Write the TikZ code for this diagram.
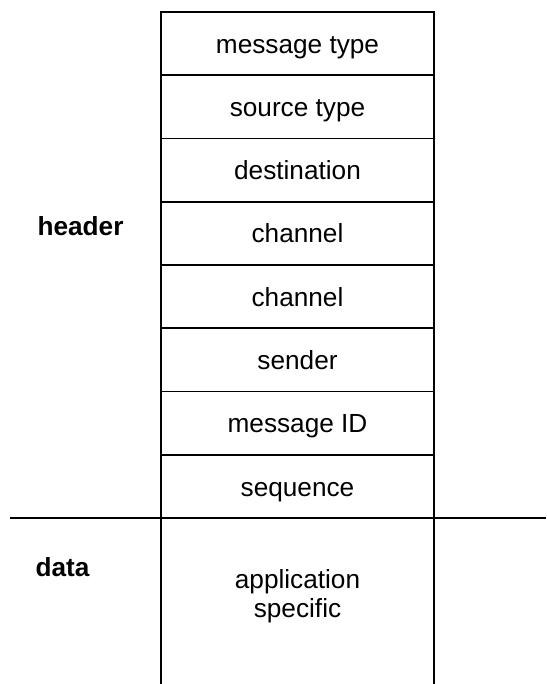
\documentclass[tikz,border=0pt]{standalone}
\usepackage{fontspec}
\setmainfont{Liberation Sans}
\begin{document}
\begin{tikzpicture}[x=1pt,y=-1pt,
  ln/.style={line width=1.7pt, black},
  fieldtxt/.style={font=\fontsize{26.2}{29.4}\selectfont, text height=18.8pt, text depth=5.8pt, inner sep=0pt},
  sidelbl/.style={font=\fontsize{26.2}{29.4}\selectfont\bfseries, text height=18.8pt, text depth=5.8pt, inner sep=0pt}]
\useasboundingbox (0,0) rectangle (546,684);
% column
\coordinate (tl) at (161,12);
\coordinate (tr) at (434,12);
\coordinate (bl) at (161,684);
\coordinate (br) at (434,684);
\coordinate (hl) at (10,518);
\coordinate (hr) at (546,518);
\draw[ln] (bl) -- (tl) -- (tr) -- (br);
\draw[ln] (hl) -- (hr);
\foreach \i in {1,...,7} {
  \draw[ln] (161,{12+63.25*\i}) -- (434,{12+63.25*\i});
}
\node[fieldtxt] (f1) at (297.5,46.6) {message type};
\node[fieldtxt] (f2) at (297.5,110) {source type};
\node[fieldtxt] (f3) at (297.5,173) {destination};
\node[fieldtxt] (f4) at (297.5,236.5) {channel};
\node[fieldtxt] (f5) at (297.5,299.5) {channel};
\node[fieldtxt] (f6) at (297.5,363) {sender};
\node[fieldtxt] (f7) at (297.5,426) {message ID};
\node[fieldtxt] (f8) at (297.5,489.5) {sequence};
\node[font=\fontsize{26.2}{29.4}\selectfont, align=center, inner sep=0pt] (app) at (297.5,596) {application\\specific};
\node[sidelbl] (hdr) at (80.5,228.6) {header};
\node[sidelbl] (dat) at (62.6,570.3) {data};
\end{tikzpicture}
\end{document}
